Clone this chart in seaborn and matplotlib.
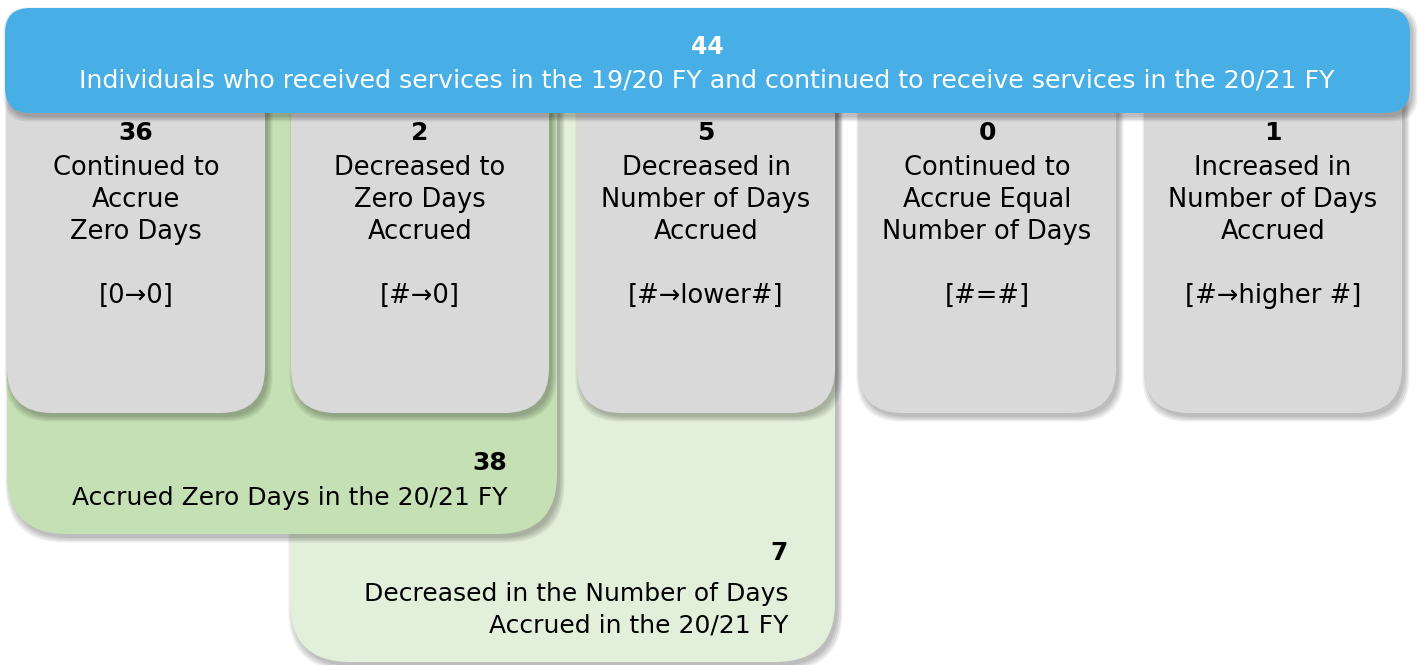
import matplotlib
matplotlib.use('Agg')
import matplotlib.pyplot as plt
from matplotlib.patches import FancyBboxPatch
import seaborn as sns

sns.set_theme(style='white')
plt.rcParams['font.family'] = ['DejaVu Sans']
plt.rcParams['text.color'] = 'black'

# data
total = 44
total_label = 'Individuals who received services in the 19/20 FY and continued to receive services in the 20/21 FY'
counts = [36, 2, 5, 0, 1]
card_labels = [
    'Continued to\nAccrue\nZero Days',
    'Decreased to\nZero Days\nAccrued',
    'Decreased in\nNumber of Days\nAccrued',
    'Continued to\nAccrue Equal\nNumber of Days',
    'Increased in\nNumber of Days\nAccrued',
]
card_codes = ['[0\u21920]', '[#\u21920]', '[#\u2192lower#]', '[#=#]', '[#\u2192higher #]']
zero_total = 38
zero_label = 'Accrued Zero Days in the 20/21 FY'
decr_total = 7
decr_label = 'Decreased in the Number of Days\nAccrued in the 20/21 FY'

BLUE = '#47afe6'
GRAY = '#d9d9d9'
GREEN_DARK = '#c5e0b4'
GREEN_LIGHT = '#e2efda'

fig = plt.figure(figsize=(14.21, 6.65), dpi=100)
ax = fig.add_axes([0, 0, 1, 1])
ax.set_xlim(0, 1421)
ax.set_ylim(665, 0)
ax.axis('off')


def box(x0, y0, x1, y1, r, color, z):
    # soft shadow: a few faint layers offset down-right
    for k in range(4):
        grow = 1.5 * k
        sh = FancyBboxPatch((x0 + 3 - grow + r, y0 + 4 - grow + r),
                            x1 - x0 + 2 * grow - 2 * r, y1 - y0 + 2 * grow - 2 * r,
                            boxstyle=f'round,pad={r},rounding_size={r}',
                            facecolor='black', edgecolor='none', alpha=0.07, zorder=z - 0.5)
        ax.add_patch(sh)
    p = FancyBboxPatch((x0 + r, y0 + r), x1 - x0 - 2 * r, y1 - y0 - 2 * r,
                       boxstyle=f'round,pad={r},rounding_size={r}',
                       facecolor=color, edgecolor='none', zorder=z)
    ax.add_patch(p)


# green summary panels (tops hidden under the cards / header)
box(290, 60, 835, 662, 60, GREEN_LIGHT, 1)
box(7, 60, 557, 534, 60, GREEN_DARK, 2)

# category cards
card_x = [(7, 265), (291, 549), (577, 835), (858, 1116), (1144, 1402)]
for (x0, x1), n, lab, code in zip(card_x, counts, card_labels, card_codes):
    box(x0, 60, x1, 413, 45, GRAY, 3)
    cx = (x0 + x1) / 2
    ax.text(cx, 133, str(n), ha='center', va='center', fontsize=18, fontweight='bold', zorder=5)
    ax.text(cx, 200, lab, ha='center', va='center', fontsize=18.5, linespacing=1.3, zorder=5)
    ax.text(cx, 296, code, ha='center', va='center', fontsize=18.5, zorder=5)

# header bar
box(5, 8, 1410, 113, 25, BLUE, 6)
ax.text(707, 47, str(total), ha='center', va='center', fontsize=17, fontweight='bold',
        color='white', zorder=7)
ax.text(707, 80, total_label, ha='center', va='center', fontsize=18.2, color='white', zorder=7)

# green panel labels
ax.text(507, 463, str(zero_total), ha='right', va='center', fontsize=18, fontweight='bold', zorder=5)
ax.text(507, 498, zero_label, ha='right', va='center', fontsize=18, zorder=5)
ax.text(788, 553, str(decr_total), ha='right', va='center', fontsize=18, fontweight='bold', zorder=5)
ax.text(788, 610, decr_label, ha='right', va='center', fontsize=18, linespacing=1.4, zorder=5)

fig.savefig('out.png', dpi=100)
